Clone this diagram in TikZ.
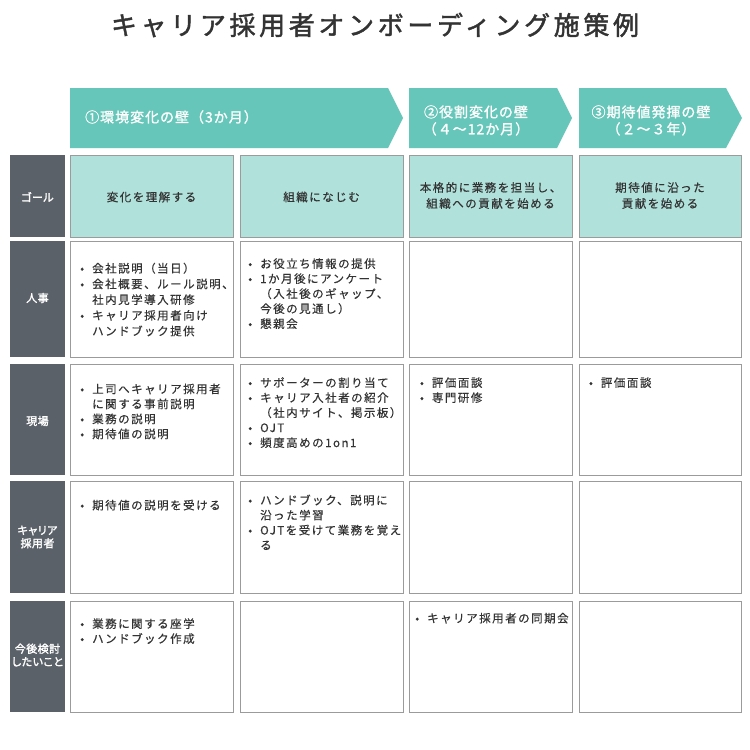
\documentclass[tikz,border=0pt]{standalone}
\usepackage{fontspec}
\setmainfont{Noto Sans CJK JP}[LetterSpace=13, FakeBold=0.4]
\newfontfamily\ttlfont{Noto Sans CJK JP}[LetterSpace=14, FakeBold=1.6]
\newfontfamily\phfont{Noto Sans CJK JP}[LetterSpace=7, FakeBold=1.3]
\newfontfamily\lblfont{Noto Sans CJK JP}[LetterSpace=4, FakeBold=2.0, RawFeature=+palt]
\definecolor{phasecol}{HTML}{66C6B9}
\definecolor{goalfill}{HTML}{B0E1DB}
\definecolor{bordergray}{HTML}{9B9B9B}
\definecolor{labelgray}{HTML}{5B6169}
\definecolor{ink}{HTML}{333333}
\newcommand\bx[6]{\node[#2, minimum width={(#5-#3)*1pt}, minimum height={(#6-#4)*1pt}] (#1) at ({(#3+#5)/2},{(#4+#6)/2}) {};}
\newcommand\bul{\makebox[0pt][c]{•}\hspace*{10pt}}
\newcommand\li[1]{\hbox{\bul#1}}
\newcommand\lc[1]{\hbox{\hspace*{10pt}#1}}
\newcommand\cellt[2][15pt]{\vtop{\baselineskip=#1\lineskiplimit=-20pt\lineskip=0pt #2}}
\begin{document}
\begin{tikzpicture}[x=1pt,y=-1pt,
  cellbox/.style={draw=bordergray, line width=1pt, fill=white, inner sep=0pt, outer sep=0pt},
  goalbox/.style={cellbox, fill=goalfill},
  lblbox/.style={fill=labelgray, draw=none, inner sep=0pt, outer sep=0pt},
  txt/.style={text=ink, inner sep=0pt, font=\fontsize{11.5}{15}\selectfont},
  goaltxt/.style={text=ink, inner sep=0pt, align=center, font=\fontsize{11.5}{16}\selectfont},
  lbltxt/.style={text=white, inner sep=0pt, align=center, font=\lblfont\fontsize{11}{13}\selectfont},
  phtxt/.style={text=white, inner sep=0pt, align=center, font=\phfont\fontsize{14}{17}\selectfont},
  titletxt/.style={text=ink, inner sep=0pt, font=\ttlfont\fontsize{26}{30}\selectfont}]
\fill[white] (0,0) rectangle (750,750);
\useasboundingbox (0,0) rectangle (750,750);

\node[titletxt] (title) at (375,25) {キャリア採用者オンボーディング施策例};

% phase arrows
\fill[phasecol] (70,88) -- (388,88) -- (403,118) -- (388,148) -- (70,148) -- cycle;
\fill[phasecol] (409,88) -- (557,88) -- (572,118) -- (557,148) -- (409,148) -- cycle;
\fill[phasecol] (579,88) -- (726,88) -- (742,118) -- (726,148) -- (579,148) -- cycle;
\node[phtxt, anchor=west] (ph1) at (85,117) {①環境変化の壁（3か月）};
\node[phtxt] (ph2) at (476,120.5) {②役割変化の壁\\（４〜12か月）};
\node[phtxt] (ph3) at (651,120.5) {③期待値発揮の壁\\（２〜３年）};

% row labels
\bx{Lg}{lblbox}{10}{155}{65}{237}
\bx{Lh}{lblbox}{10}{241}{65}{357}
\bx{Lf}{lblbox}{10}{364}{65}{475}
\bx{Lc}{lblbox}{10}{481}{65}{593}
\bx{Lk}{lblbox}{10}{601}{65}{712}
\node[lbltxt] (lgt) at (37.5,197) {ゴール};
\node[lbltxt] (lht) at (37.5,298) {人事};
\node[lbltxt] (lft) at (37.5,421) {現場};
\node[lbltxt] (lct) at (37.5,537) {キャリア\\採用者};
\node[lbltxt] (lkt) at (37.5,655) {今後検討\\したいこと};

% goal row
\bx{G1}{goalbox}{70}{155}{233}{237}
\bx{G2}{goalbox}{240}{155}{403}{237}
\bx{G3}{goalbox}{409}{155}{572}{237}
\bx{G4}{goalbox}{579}{155}{741}{237}
\node[goaltxt] (g1t) at (151.5,197) {変化を理解する};
\node[goaltxt] (g2t) at (321.5,197) {組織になじむ};
\node[goaltxt] (g3t) at (490.5,195.5) {本格的に業務を担当し、\\組織への貢献を始める};
\node[goaltxt] (g4t) at (660,195.5) {期待値に沿った\\貢献を始める};

% body cells
\bx{H1}{cellbox}{70}{241}{233}{357}
\bx{H2}{cellbox}{240}{241}{403}{357}
\bx{H3}{cellbox}{409}{241}{572}{357}
\bx{H4}{cellbox}{579}{241}{741}{357}
\bx{F1}{cellbox}{70}{364}{233}{475}
\bx{F2}{cellbox}{240}{364}{403}{475}
\bx{F3}{cellbox}{409}{364}{572}{475}
\bx{F4}{cellbox}{579}{364}{741}{475}
\bx{C1}{cellbox}{70}{481}{233}{593}
\bx{C2}{cellbox}{240}{481}{403}{593}
\bx{C3}{cellbox}{409}{481}{572}{593}
\bx{C4}{cellbox}{579}{481}{741}{593}
\bx{K1}{cellbox}{70}{601}{233}{712}
\bx{K2}{cellbox}{240}{601}{403}{712}
\bx{K3}{cellbox}{409}{601}{572}{712}
\bx{K4}{cellbox}{579}{601}{741}{712}

\node[txt, anchor=base west] (h1t) at (82,272.6) {\cellt[15.7pt]{%
  \li{会社説明（当日）}\li{会社概要、ルール説明、}\lc{社内見学導入研修}\li{キャリア採用者向け}\lc{ハンドブック提供}}};
\node[txt, anchor=base west] (h2t) at (250,268) {\cellt{%
  \li{お役立ち情報の提供}\li{1か月後にアンケート}\lc{（入社後のギャップ、}\lc{今後の見通し）}\li{懇親会}}};
\node[txt, anchor=base west] (f1t) at (82,393.3) {\cellt{%
  \li{上司へキャリア採用者}\lc{に関する事前説明}\li{業務の説明}\li{期待値の説明}}};
\node[txt, anchor=base west] (f2t) at (250,387) {\cellt{%
  \li{サポーターの割り当て}\li{キャリア入社者の紹介}\lc{（社内サイト、掲示板）}\li{OJT}\li{頻度高めの1on1}}};
\node[txt, anchor=base west] (f3t) at (421.7,387) {\cellt{%
  \li{評価面談}\li{専門研修}}};
\node[txt, anchor=base west] (f4t) at (590.7,387) {\cellt{%
  \li{評価面談}}};
\node[txt, anchor=base west] (c1t) at (82,509.5) {\cellt{%
  \li{期待値の説明を受ける}}};
\node[txt, anchor=base west] (c2t) at (250,504.5) {\cellt{%
  \li{ハンドブック、説明に}\lc{沿った学習}\li{OJTを受けて業務を覚え}\lc{る}}};
\node[txt, anchor=base west] (k1t) at (82,628) {\cellt{%
  \li{業務に関する座学}\li{ハンドブック作成}}};
\node[txt, anchor=base west] (k3t) at (417,622.5) {\cellt{%
  \li{キャリア採用者の同期会}}};
\end{tikzpicture}
\end{document}
